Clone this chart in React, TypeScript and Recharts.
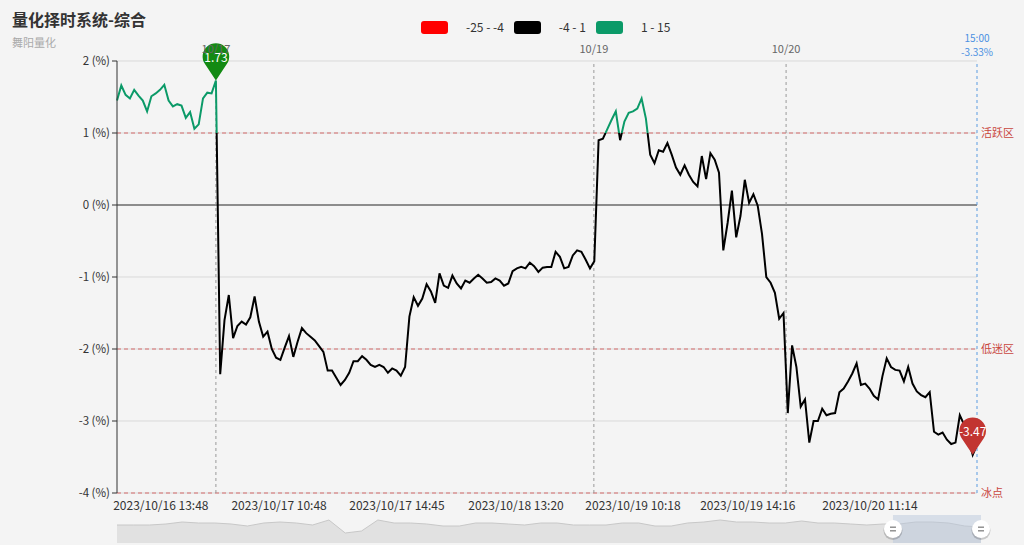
import React from 'react';
import {
  LineChart,
  Line,
  XAxis,
  YAxis,
  CartesianGrid,
  ReferenceLine,
  ReferenceDot,
  AreaChart,
  Area,
  ReferenceArea,
} from 'recharts';

// ---------- data ----------
const values: number[] = [
  1.45, 1.66, 1.53, 1.48, 1.6, 1.52, 1.45, 1.3, 1.51, 1.55,
  1.6, 1.67, 1.45, 1.37, 1.4, 1.38, 1.21, 1.29, 1.06, 1.12,
  1.48, 1.56, 1.55, 1.73, -2.35, -1.6, -1.25, -1.85, -1.68, -1.62,
  -1.66, -1.56, -1.27, -1.62, -1.83, -1.76, -2.0, -2.12, -2.15, -1.98,
  -1.82, -2.11, -1.9, -1.71, -1.78, -1.83, -1.88, -1.96, -2.04, -2.3,
  -2.3, -2.4, -2.5, -2.43, -2.33, -2.17, -2.17, -2.1, -2.15, -2.22,
  -2.25, -2.22, -2.25, -2.33, -2.27, -2.3, -2.37, -2.25, -1.55, -1.28,
  -1.4, -1.3, -1.1, -1.2, -1.36, -0.95, -1.12, -1.15, -0.98, -1.09,
  -1.16, -1.05, -1.08, -1.02, -0.97, -1.02, -1.08, -1.07, -1.02, -1.05,
  -1.12, -1.09, -0.92, -0.88, -0.86, -0.88, -0.8, -0.85, -0.93, -0.87,
  -0.86, -0.86, -0.65, -0.72, -0.88, -0.86, -0.7, -0.63, -0.65, -0.76,
  -0.88, -0.78, 0.9, 0.92, 1.05, 1.18, 1.3, 0.9, 1.16, 1.28,
  1.3, 1.34, 1.48, 1.2, 0.7, 0.58, 0.76, 0.74, 0.86, 0.7,
  0.52, 0.42, 0.55, 0.42, 0.32, 0.26, 0.68, 0.36, 0.72, 0.63,
  0.45, -0.63, -0.25, 0.2, -0.45, -0.15, 0.35, 0.03, 0.15, -0.01,
  -0.4, -1.0, -1.08, -1.22, -1.58, -1.5, -2.89, -1.95, -2.25, -2.8,
  -2.7, -3.3, -3.0, -3.0, -2.83, -2.92, -2.9, -2.89, -2.6, -2.55,
  -2.45, -2.34, -2.2, -2.5, -2.48, -2.55, -2.65, -2.7, -2.38, -2.13,
  -2.25, -2.29, -2.3, -2.45, -2.25, -2.48, -2.59, -2.64, -2.67, -2.6,
  -3.15, -3.19, -3.16, -3.26, -3.32, -3.3, -2.92, -3.05, -3.25, -3.47,
  -3.33,
];

const xTickIndex: number[] = [10.2, 37.7, 65.1, 92.8, 120, 146.7, 175.1];
const xTickLabels: string[] = [
  '2023/10/16 13:48',
  '2023/10/17 10:48',
  '2023/10/17 14:45',
  '2023/10/18 13:20',
  '2023/10/19 10:18',
  '2023/10/19 14:16',
  '2023/10/20 11:14',
];
const yTicks: number[] = [2, 1, 0, -1, -2, -3, -4];
const dayIndex: number[] = [23, 110.9, 155.6];
const dayLabels: string[] = ['10/17', '10/19', '10/20'];
const zoneLevels: number[] = [1, -2, -4];
const zoneLabels: string[] = ['活跃区', '低迷区', '冰点'];
const lastTimeLabel = '15:00';

const pieceMin: number[] = [-25, -4, 1];
const pieceMax: number[] = [-4, 1, 15];
const pieceLabels: string[] = ['-25 - -4', '-4 - 1', '1 - 15'];

const miniValues: number[] = [
  18, 18, 18, 19, 21, 20, 20, 19, 17, 20,
  21, 20, 18, 23, 10, 12, 23, 20, 20, 19,
  17, 17, 20, 20, 19, 18, 20, 20, 18, 18,
  18, 20, 20, 17, 17, 20, 21, 23, 21, 21,
  20, 20, 22, 20, 20, 19, 18, 19, 19, 21,
  21, 20, 17, 16,
];
const miniWindow: number[] = [47.6, 53];

// ---------- styles ----------
const PIECE_COLORS = ['#ff0000', '#000000', '#0b9a68'];
const MAX_PIN_COLOR = '#138a13';
const MIN_PIN_COLOR = '#c23531';
const ZONE_COLOR = '#d46a6a';
const ZONE_TEXT = '#c9463d';
const BG = '#f4f4f4';
const FONT = '"Noto Sans CJK SC", "Noto Sans", sans-serif';

const data = values.map((v, i) => ({ i, v }));
const miniData = miniValues.map((v, i) => ({ i, v }));
const vMax = Math.max(...values);
const vMin = Math.min(...values);
const maxIdx = values.indexOf(vMax);
const minIdx = values.indexOf(vMin);
const lastIdx = values.length - 1;

const off = (t: number) => Math.min(1, Math.max(0, (vMax - t) / (vMax - vMin)));

function gradientStops() {
  const stops: React.ReactNode[] = [];
  for (let k = pieceMin.length - 1; k >= 0; k--) {
    const a = off(pieceMax[k]);
    const b = off(pieceMin[k]);
    if (b <= a) continue;
    stops.push(<stop key={`a${k}`} offset={a} stopColor={PIECE_COLORS[k]} />);
    stops.push(<stop key={`b${k}`} offset={b} stopColor={PIECE_COLORS[k]} />);
  }
  return stops;
}

const makePin = (color: string, text: string) => (props: any) => {
  const { cx, cy } = props;
  if (cx == null || cy == null) return <g />;
  const r = 13.3;
  const d = 24;
  const hy = cy - d;
  const c = r / d;
  const s = Math.sqrt(1 - c * c);
  const px = r * s;
  const py = hy + r * c;
  const path = `M${cx},${cy} L${cx - px},${py} A${r},${r} 0 1 1 ${cx + px},${py} Z`;
  return (
    <g>
      <path d={path} fill={color} />
      <text
        x={cx}
        y={hy}
        textAnchor="middle"
        dominantBaseline="central"
        fill="#fff"
        fontSize={12}
        fontFamily={FONT}
      >
        {text}
      </text>
    </g>
  );
};

const Handle = (props: any) => {
  const { cx, cy } = props;
  if (cx == null || cy == null) return <g />;
  return (
    <g>
      <circle cx={cx} cy={cy + 1.5} r={9.5} fill="rgba(0,0,0,0.18)" />
      <circle cx={cx} cy={cy} r={9} fill="#fff" />
      <line x1={cx - 3} x2={cx + 3} y1={cy - 1.8} y2={cy - 1.8} stroke="#8a8a8a" strokeWidth={1.4} />
      <line x1={cx - 3} x2={cx + 3} y1={cy + 1.8} y2={cy + 1.8} stroke="#8a8a8a" strokeWidth={1.4} />
    </g>
  );
};

const LastLabel = (props: any) => {
  const vb = props.viewBox || {};
  const x = vb.x ?? 0;
  const y = vb.y ?? 0;
  return (
    <g fontFamily={FONT} fontSize={10} fill="#4a90e2" textAnchor="middle">
      <text x={x} y={y - 19}>{lastTimeLabel}</text>
      <text x={x} y={y - 5}>{`${values[lastIdx].toFixed(2)}%`}</text>
    </g>
  );
};

export default function App() {
  return (
    <div
      style={{
        position: 'absolute',
        left: 0,
        top: 0,
        width: 1024,
        height: 545,
        background: BG,
        fontFamily: FONT,
        overflow: 'hidden',
      }}
    >
      <div
        style={{
          position: 'absolute',
          left: 12,
          top: 8,
          fontSize: 16,
          fontWeight: 'bold',
          color: '#333',
          lineHeight: '22px',
        }}
      >
        量化择时系统-综合
      </div>
      <div
        style={{
          position: 'absolute',
          left: 12,
          top: 35,
          fontSize: 11,
          color: '#aaa',
          lineHeight: '14px',
        }}
      >
        舞阳量化
      </div>

      {/* legend */}
      <div
        style={{
          position: 'absolute',
          left: 421,
          top: 20,
          display: 'flex',
          alignItems: 'center',
          fontSize: 12,
          color: '#333',
          height: 14,
        }}
      >
        {pieceLabels.map((lab, k) => (
          <div key={k} style={{ display: 'flex', alignItems: 'center', marginRight: k < 2 ? 10 : 0 }}>
            <div
              style={{
                width: 27,
                height: 13,
                borderRadius: 3,
                background: PIECE_COLORS[k],
                marginRight: 18,
              }}
            />
            <span style={{ lineHeight: '14px' }}>{lab}</span>
          </div>
        ))}
      </div>

      <div style={{ position: 'absolute', left: 0, top: 0 }}>
        <LineChart
          width={1024}
          height={545}
          data={data}
          margin={{ top: 61, right: 47, bottom: 22, left: 57 }}
        >
          <defs>
            <linearGradient id="lineGrad" x1="0" y1="0" x2="0" y2="1">
              {gradientStops()}
            </linearGradient>
          </defs>
          <CartesianGrid vertical={false} stroke="#d9d9d9" />
          <XAxis
            type="number"
            dataKey="i"
            domain={[0, lastIdx]}
            ticks={xTickIndex}
            interval={0}
            tickFormatter={(v: number) => xTickLabels[xTickIndex.indexOf(v)] ?? ''}
            axisLine={false}
            tickLine={false}
            tick={{ fill: '#333', fontSize: 12, fontFamily: FONT }}
            height={30}
          />
          <YAxis
            type="number"
            domain={[-4, 2]}
            ticks={yTicks}
            interval={0}
            width={60}
            tickFormatter={(v: number) => `${v} (%)`}
            axisLine={{ stroke: '#333' }}
            tickLine={{ stroke: '#333' }}
            tickSize={5}
            tick={{ fill: '#333', fontSize: 11.5, fontFamily: FONT }}
          />
          <ReferenceLine y={0} stroke="#333" />
          {zoneLevels.map((lv, k) => (
            <ReferenceLine
              key={`z${k}`}
              y={lv}
              stroke={ZONE_COLOR}
              strokeDasharray="4 3"
              label={{
                value: zoneLabels[k],
                position: 'right',
                offset: 4,
                fill: ZONE_TEXT,
                fontSize: 11,
                fontFamily: FONT,
              }}
            />
          ))}
          {dayIndex.map((d, k) => (
            <ReferenceLine
              key={`d${k}`}
              x={d}
              stroke="#9a9a9a"
              strokeDasharray="3 3"
              label={{
                value: dayLabels[k],
                position: 'top',
                offset: 8,
                fill: '#666',
                fontSize: 11,
                fontFamily: FONT,
              }}
            />
          ))}
          <ReferenceLine
            x={lastIdx}
            stroke="#5b9be0"
            strokeDasharray="3 3"
            label={<LastLabel />}
          />
          <Line
            type="linear"
            dataKey="v"
            stroke="url(#lineGrad)"
            strokeWidth={2}
            dot={false}
            activeDot={false}
            isAnimationActive={false}
          />
          <ReferenceDot
            x={maxIdx}
            y={vMax}
            r={1}
            shape={makePin(MAX_PIN_COLOR, vMax.toFixed(2))}
          />
          <ReferenceDot
            x={minIdx}
            y={vMin}
            r={1}
            shape={makePin(MIN_PIN_COLOR, vMin.toFixed(2))}
          />
        </LineChart>
      </div>

      {/* data zoom slider */}
      <div style={{ position: 'absolute', left: 117, top: 515 }}>
        <AreaChart
          width={880}
          height={28}
          data={miniData}
          margin={{ top: 0, right: 16, bottom: 0, left: 0 }}
        >
          <XAxis type="number" dataKey="i" domain={[0, miniValues.length - 1]} hide />
          <YAxis type="number" domain={[0, 28]} hide />
          <Area
            type="linear"
            dataKey="v"
            stroke="#c8c8c8"
            fill="#e1e1e1"
            fillOpacity={1}
            isAnimationActive={false}
          />
          <ReferenceArea
            x1={miniWindow[0]}
            x2={miniWindow[1]}
            y1={0}
            y2={28}
            fill="#b9c8dc"
            fillOpacity={0.5}
            stroke="none"
          />
          <ReferenceDot x={miniWindow[0]} y={14} r={9} shape={Handle} />
          <ReferenceDot x={miniWindow[1]} y={14} r={9} shape={Handle} />
        </AreaChart>
      </div>
    </div>
  );
}
